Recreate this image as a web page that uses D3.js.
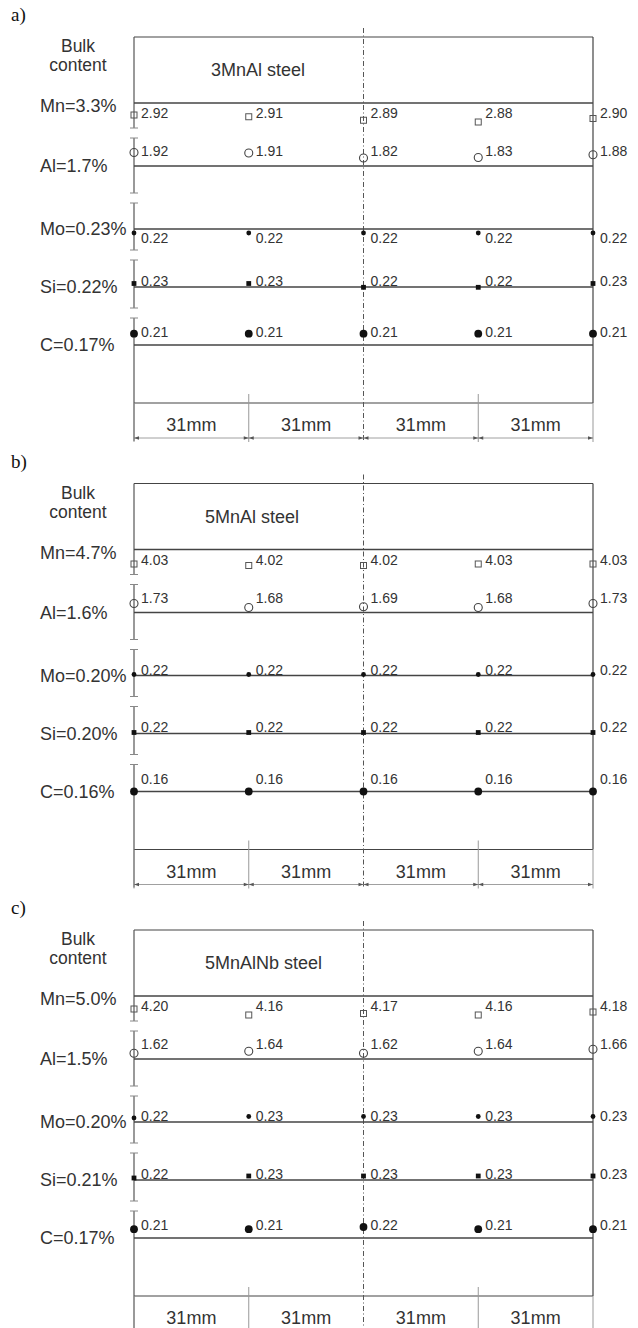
<!DOCTYPE html>
<html lang="en">
<head>
<meta charset="UTF-8">
<title>Element distribution across plate width</title>
<script src="https://d3js.org/d3.v7.min.js"></script>
<style>
    body { margin: 0; background: #fff; }
    svg { display: block; }
    text { font-family: "Liberation Sans", Arial, sans-serif; fill: #333; }
    .panel-tag { font-family: "Liberation Serif", "Times New Roman", serif; font-size: 19px; fill: #111; }
</style>
</head>
<body>
<svg id="chart" width="638" height="1328"></svg>
<script>
    // ---- data ----
    const panelTags = ["a)", "b)", "c)"];
    const steelNames = ["3MnAl steel", "5MnAl steel", "5MnAlNb steel"];
    const elements = ["Mn", "Al", "Mo", "Si", "C"];
    const positionsMm = [0, 31, 62, 93, 124];
    const spacingLabels = ["31mm", "31mm", "31mm", "31mm"];

    const bulkA = [3.3, 1.7, 0.23, 0.22, 0.17];
    const bulkB = [4.7, 1.6, 0.20, 0.20, 0.16];
    const bulkC = [5.0, 1.5, 0.20, 0.21, 0.17];

    // rows: Mn, Al, Mo, Si, C ; columns: positions across the width
    const measuredA = [
        [2.92, 2.91, 2.89, 2.88, 2.90],
        [1.92, 1.91, 1.82, 1.83, 1.88],
        [0.22, 0.22, 0.22, 0.22, 0.22],
        [0.23, 0.23, 0.22, 0.22, 0.23],
        [0.21, 0.21, 0.21, 0.21, 0.21]
    ];
    const measuredB = [
        [4.03, 4.02, 4.02, 4.03, 4.03],
        [1.73, 1.68, 1.69, 1.68, 1.73],
        [0.22, 0.22, 0.22, 0.22, 0.22],
        [0.22, 0.22, 0.22, 0.22, 0.22],
        [0.16, 0.16, 0.16, 0.16, 0.16]
    ];
    const measuredC = [
        [4.20, 4.16, 4.17, 4.16, 4.18],
        [1.62, 1.64, 1.62, 1.64, 1.66],
        [0.22, 0.23, 0.23, 0.23, 0.23],
        [0.22, 0.23, 0.23, 0.23, 0.23],
        [0.21, 0.21, 0.22, 0.21, 0.21]
    ];

    // ---- layout ----
    const panelTop = [37, 483.5, 930];
    const titleX = [211, 205, 205];
    const lineY = [66, 129, 192, 250, 308];        // bulk line of each row, from panel top
    const segments = [[0, 91], [101, 156], [166, 213], [223, 271], [281, 404]];
    const boxBottom = 366;
    // per panel/row: marker value scale (domain -> offset from panel top)
    const markerScales = [
        [[[2.88, 2.92], [85, 78]], [[1.82, 1.92], [121, 115.5]], [[0.22, 0.23], [196, 192]], [[0.22, 0.23], [250.3, 246.5]], [[0.17, 0.21], [308, 296.7]]],
        [[[4.02, 4.03], [82, 80.5]], [[1.68, 1.73], [124, 120]], [[0.20, 0.22], [193, 191]], [[0.20, 0.22], [251, 249]], [[0.16, 0.17], [308, 305]]],
        [[[4.16, 4.20], [85, 79]], [[1.62, 1.66], [123.3, 119.3]], [[0.20, 0.23], [191, 186.5]], [[0.21, 0.23], [250, 246]], [[0.17, 0.22], [308, 297]]]
    ];

    const bulks = [bulkA, bulkB, bulkC];
    const measured = [measuredA, measuredB, measuredC];

    const svg = d3.select("#chart");
    svg.append("rect").attr("width", 638).attr("height", 1328).attr("fill", "#fff");

    const x = d3.scaleLinear().domain([0, 124]).range([134, 593]);
    const lineColor = "#444";

    function bulkLabel(el, v) {
        return el + "=" + (el === "Mn" || el === "Al" ? v.toFixed(1) : v.toFixed(2)) + "%";
    }

    // marker drawing per element
    function drawMarker(g, el, cx, cy) {
        if (el === "Mn") {
            g.append("rect").attr("x", cx - 3).attr("y", cy - 3).attr("width", 6).attr("height", 6)
                .attr("fill", "none").attr("stroke", "#555").attr("stroke-width", 1);
        } else if (el === "Al") {
            g.append("circle").attr("cx", cx).attr("cy", cy).attr("r", 4)
                .attr("fill", "none").attr("stroke", "#444").attr("stroke-width", 1.1);
        } else if (el === "Mo") {
            g.append("circle").attr("cx", cx).attr("cy", cy).attr("r", 2.4).attr("fill", "#111");
        } else if (el === "Si") {
            g.append("rect").attr("x", cx - 2.4).attr("y", cy - 2.4).attr("width", 4.8).attr("height", 4.8).attr("fill", "#111");
        } else {
            g.append("circle").attr("cx", cx).attr("cy", cy).attr("r", 3.9).attr("fill", "#111");
        }
    }

    const labelDy = { Mn: 10, Al: -15, Si: -6.5, C: -13 };

    panelTags.forEach((tag, p) => {
        const g = svg.append("g").attr("transform", `translate(0,${panelTop[p]})`);

        g.append("text").attr("class", "panel-tag").attr("x", 11).attr("y", -16).text(tag);

        g.append("text").attr("x", 78).attr("y", 15).attr("text-anchor", "middle")
            .style("font-size", "17.5px").text("Bulk");
        g.append("text").attr("x", 78).attr("y", 34).attr("text-anchor", "middle")
            .style("font-size", "17.5px").text("content");

        g.append("text").attr("x", titleX[p]).attr("y", 39).style("font-size", "18px").text(steelNames[p]);

        // frame: top, right, bottom
        g.append("line").attr("x1", x(0)).attr("x2", x(124)).attr("y1", 0).attr("y2", 0)
            .attr("stroke", lineColor).attr("stroke-width", 1.2);
        g.append("line").attr("x1", x(124)).attr("x2", x(124)).attr("y1", 0).attr("y2", boxBottom)
            .attr("stroke", lineColor).attr("stroke-width", 1.2);
        g.append("line").attr("x1", x(0)).attr("x2", x(124)).attr("y1", boxBottom).attr("y2", boxBottom)
            .attr("stroke", lineColor).attr("stroke-width", 1.2);

        // broken left axis
        segments.forEach((s, i) => {
            g.append("line").attr("x1", x(0)).attr("x2", x(0)).attr("y1", s[0]).attr("y2", s[1])
                .attr("stroke", "#555").attr("stroke-width", 1.2);
            const ticks = i === 0 ? [s[1]] : (i === segments.length - 1 ? [s[0]] : s);
            ticks.forEach(t => {
                g.append("line").attr("x1", x(0) - 4).attr("x2", x(0) + 4).attr("y1", t).attr("y2", t)
                    .attr("stroke", "#888").attr("stroke-width", 1);
            });
        });

        // centre line
        g.append("line").attr("x1", x(62)).attr("x2", x(62)).attr("y1", -9).attr("y2", 405)
            .attr("stroke", "#555").attr("stroke-width", 1).attr("stroke-dasharray", "5,2.5,1,2.5");

        // rows
        elements.forEach((el, r) => {
            const bulk = bulks[p][r];
            const ly = lineY[r];
            g.append("line").attr("x1", x(0)).attr("x2", x(124)).attr("y1", ly).attr("y2", ly)
                .attr("stroke", lineColor).attr("stroke-width", 1.6);
            g.append("text").attr("x", 40).attr("y", ly + (el === "Mn" ? 3 : 0))
                .attr("dominant-baseline", "central").style("font-size", "18px")
                .text(bulkLabel(el, bulk));

            const ms = markerScales[p][r];
            const y = d3.scaleLinear().domain(ms[0]).range(ms[1]);
            measured[p][r].forEach((v, c) => {
                const cx = x(positionsMm[c]);
                drawMarker(g, el, cx, y(v));
                let dy = labelDy[el];
                if (el === "Mo") dy = v < bulk ? 8.7 : -6;
                g.append("text").attr("x", cx + 7).attr("y", ly + dy)
                    .attr("dominant-baseline", "central").style("font-size", "14px")
                    .text(v.toFixed(2));
            });
        });

        // dimension lines
        const dimY = 401;
        [0, 124].forEach(m => {
            g.append("line").attr("x1", x(m)).attr("x2", x(m)).attr("y1", boxBottom).attr("y2", 405)
                .attr("stroke", "#999").attr("stroke-width", 1);
        });
        [31, 93].forEach(m => {
            g.append("line").attr("x1", x(m)).attr("x2", x(m)).attr("y1", 357).attr("y2", 405)
                .attr("stroke", "#999").attr("stroke-width", 1);
        });
        g.append("line").attr("x1", x(0)).attr("x2", x(124)).attr("y1", dimY).attr("y2", dimY)
            .attr("stroke", "#888").attr("stroke-width", 0.8);
        spacingLabels.forEach((lab, i) => {
            const x0 = x(positionsMm[i]), x1 = x(positionsMm[i + 1]);
            g.append("text").attr("x", (x0 + x1) / 2).attr("y", 394).attr("text-anchor", "middle")
                .style("font-size", "18px").text(lab);
            g.append("path").attr("d", `M${x0},${dimY}l5,-1.8v3.6z`).attr("fill", "#555");
            g.append("path").attr("d", `M${x1},${dimY}l-5,-1.8v3.6z`).attr("fill", "#555");
        });
    });
</script>
</body>
</html>
